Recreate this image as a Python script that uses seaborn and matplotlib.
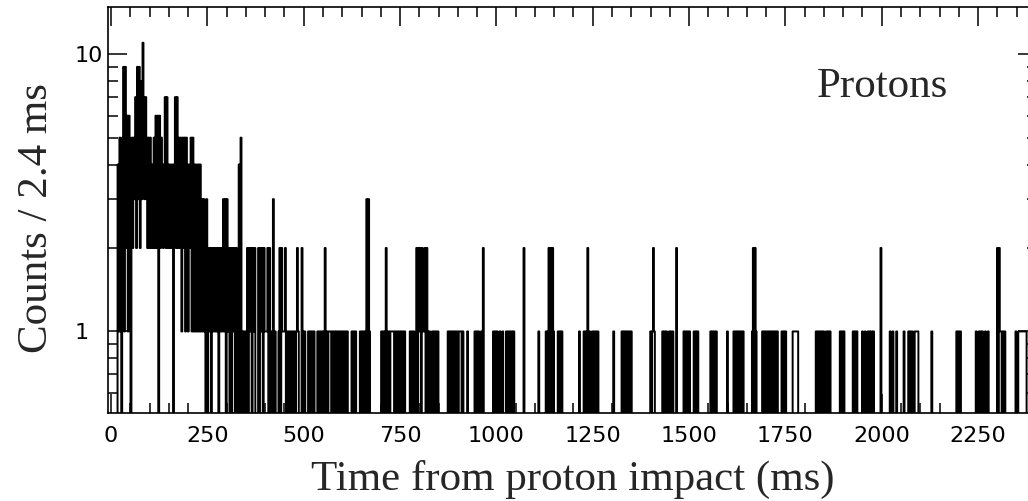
import matplotlib
matplotlib.use("Agg")
import matplotlib.pyplot as plt
import matplotlib.ticker as ticker
import seaborn as sns
import numpy as np
import pandas as pd

# counts per 2.4 ms bin, one hex character per bin ('b' = 11), 100 bins per line
counts_0000_0240 = ("0000000415" "1059192616" "2052537293" "9283b73752" "5252425262"
                    "6062542472" "7242424047" "2725251525" "1541425151" "4141414131")
counts_0240_0480 = ("3103021202" "1212120212" "1313031202" "0212020140" "5010101202"
                    "1202120002" "0212021112" "0201030100" "0120211120" "1010101010")
counts_0480_0720 = ("1210002101" "0001010101" "0001010101" "0201011101" "0101010101"
                    "0101010000" "1010100001" "0101013031" "0000000000" "0010101201")
counts_0720_0960 = ("1011110101" "0101010100" "0001010100" "2021202112" "0210100101"
                    "0101000000" "0000101010" "1010101110" "1000010000" "0001010100")
counts_0960_1200 = ("1020000000" "0001010100" "1001000101" "0101010000" "0000002000"
                    "0000000000" "0010000000" "1012020210" "0001010100" "0000000000")
counts_1200_1440 = ("0000001000" "0101020100" "1010101000" "0000000000" "0001000000"
                    "0010101010" "1010000000" "0000000000" "0001012100" "0000001010")
counts_1440_1680 = ("1001010100" "0200000001" "0101010000" "1010100000" "0000000010"
                    "1010100000" "0000001000" "0001010101" "0101000000" "0001202100")
counts_1680_1920 = ("0000101010" "1010101010" "1000010101" "0000000111" "1110000000"
                    "0000000000" "0010101010" "1001010100" "0000000010" "1010000000")
counts_1920_2160 = ("0010101000" "0010010010" "1010100000" "0020000000" "0010010001"
                    "0000000100" "0010101001" "1110000000" "0000000100" "0000000000")
counts_2160_2400 = ("0000000000" "0000101010" "0000000000" "0000010010" "1010010010"
                    "0000000020" "2110101000" "0000000010" "0111111111" "0000000000")

bin_width = 2.4
label_x = "Time from proton impact (ms)"
label_y = "Counts / 2.4 ms"
tag = "Protons"

counts = np.array([int(c, 16) for c in (counts_0000_0240 + counts_0240_0480 + counts_0480_0720
                                         + counts_0720_0960 + counts_0960_1200 + counts_1200_1440
                                         + counts_1440_1680 + counts_1680_1920 + counts_1920_2160
                                         + counts_2160_2400)])
edges = np.arange(len(counts) + 1) * bin_width
df = pd.DataFrame({"t": edges[:-1] + bin_width / 2, "n": counts})

sns.set_style("ticks")
plt.rcParams["font.family"] = ["DejaVu Sans"]
serif = ["Liberation Serif", "DejaVu Serif"]

fig = plt.figure(figsize=(10.28, 5.01), dpi=100)
ax = fig.add_axes([108 / 1028, 88 / 501, 929 / 1028, 406 / 501])

sns.histplot(data=df, x="t", weights="n", bins=list(edges), element="step", fill=False,
             color="black", linewidth=1.4, ax=ax)
ax.set_yscale("log")
ax.set_xlim(-8, 2403)
ax.set_ylim(0.508, 14.8)

ax.xaxis.set_major_locator(ticker.MultipleLocator(250))
ax.xaxis.set_minor_locator(ticker.MultipleLocator(50))
ax.set_yticks([1, 10], labels=["1", "10"])
ax.yaxis.set_minor_locator(ticker.LogLocator(base=10, subs=np.arange(2, 10), numticks=20))
ax.yaxis.set_minor_formatter(ticker.NullFormatter())
ax.tick_params(which="both", direction="in", top=True, right=True, width=1.1,
               colors="black", labelsize=16)
ax.tick_params(which="major", length=14)
ax.tick_params(which="minor", length=7.5)
ax.tick_params(axis="x", pad=9.5)
# y labels are left aligned, starting about 33 px left of the frame
ax.tick_params(axis="y", pad=24)
for lab in ax.get_yticklabels():
    lab.set_ha("left")
for s in ax.spines.values():
    s.set_linewidth(1.2)
    s.set_color("black")

ax.set_xlabel(label_x, family=serif, fontsize=31, va="baseline")
ax.xaxis.set_label_coords(0.5, (413 - 490) / 406)
ax.set_ylabel(label_y, family=serif, fontsize=31, va="baseline")
ax.yaxis.set_label_coords((47 - 108) / 929, (413 - 218) / 406)

ax.text(0.763, 0.778, tag, transform=ax.transAxes, family=serif, fontsize=31,
        va="baseline", ha="left")

fig.savefig("out.png", dpi=100)
